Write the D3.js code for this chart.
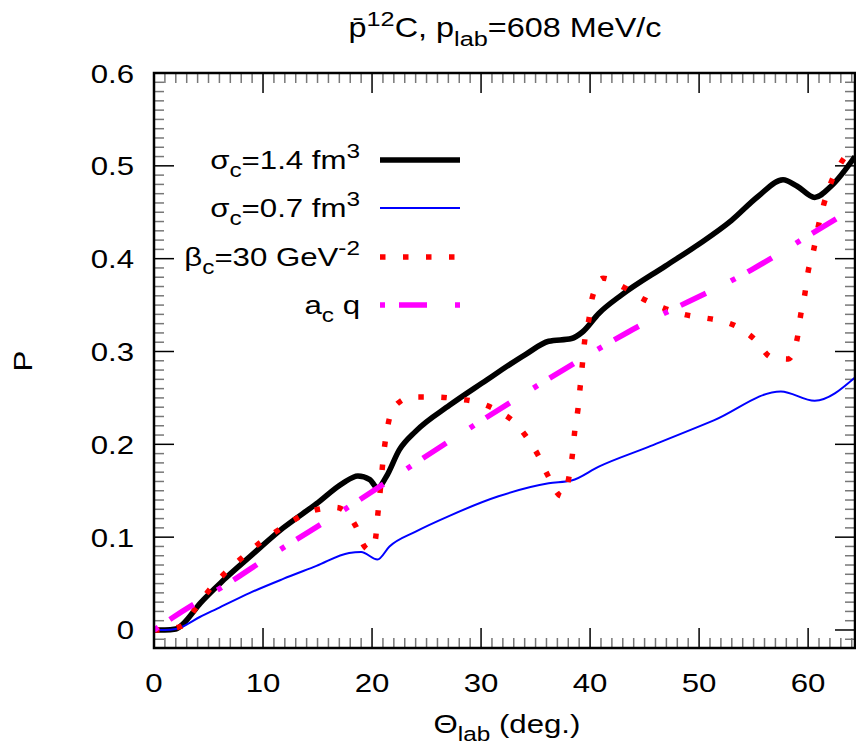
<!DOCTYPE html>
<html>
<head>
<meta charset="utf-8">
<script src="https://cdn.jsdelivr.net/npm/d3@7/dist/d3.min.js"></script>
<style>
  body { margin: 0; background: #fff; }
  svg text { font-family: "Liberation Sans", Arial, sans-serif; fill: #000; }
</style>
</head>
<body>
<div id="chart"></div>
<script>
// values
const thetaS14 = [0, 1, 2, 2.7, 4.25, 6.4, 8.8, 11.85, 14.9, 17.3, 18.7, 19.8, 20.5, 21.3, 22.5, 24.0, 27.1, 30.1, 34.1, 36.2, 38.3, 39.3, 40.8, 42.9, 46.9, 49.9, 52.95, 55.4, 57.7, 59.0, 60.6, 62.1, 64.3];
const pS14 = [0, 0, 0.001, 0.007, 0.029, 0.054, 0.079, 0.110, 0.136, 0.158, 0.166, 0.162, 0.153, 0.165, 0.194, 0.214, 0.242, 0.266, 0.297, 0.311, 0.314, 0.321, 0.341, 0.361, 0.392, 0.415, 0.441, 0.467, 0.485, 0.478, 0.466, 0.478, 0.510];

const thetaS07 = [0, 1, 2, 2.7, 4.2, 5.8, 8.8, 11.85, 14.9, 17.9, 19.0, 20.5, 21.6, 24.0, 27.1, 31.6, 36.2, 38.3, 40.8, 45.3, 51.4, 57.5, 60.6, 64.3];
const pS07 = [0, 0, 0.001, 0.004, 0.014, 0.023, 0.040, 0.055, 0.069, 0.083, 0.084, 0.076, 0.090, 0.106, 0.123, 0.144, 0.158, 0.161, 0.176, 0.197, 0.226, 0.257, 0.247, 0.272];

const thetaB30 = [0, 0.6, 2.5, 3.8, 5.0, 6.4, 7.9, 9.5, 11.2, 12.9, 14.7, 16.7, 18.5, 19.3, 19.8, 20.3, 20.5, 20.7, 21.1, 21.4, 22.0, 23.7, 25.8, 27.8, 29.8, 31.7, 33.3, 34.1, 35.2, 36.1, 37.4, 38.1, 38.4, 38.6, 38.9, 39.1, 39.3, 39.5, 39.9, 40.2, 41.2, 43.1, 44.8, 46.7, 48.6, 50.6, 51.6, 53.6, 55.2, 56.6, 58.2, 59.0, 59.3, 59.7, 60.0, 60.5, 60.9, 61.4, 62.0, 62.9, 64.3];
const pB30 = [0, 0, 0.004, 0.023, 0.042, 0.060, 0.076, 0.092, 0.106, 0.119, 0.129, 0.132, 0.112, 0.090, 0.086, 0.097, 0.121, 0.144, 0.193, 0.217, 0.240, 0.251, 0.251, 0.249, 0.245, 0.235, 0.221, 0.209, 0.189, 0.167, 0.144, 0.167, 0.191, 0.215, 0.239, 0.263, 0.287, 0.311, 0.335, 0.358, 0.379, 0.369, 0.357, 0.347, 0.340, 0.336, 0.334, 0.326, 0.312, 0.294, 0.292, 0.314, 0.338, 0.362, 0.386, 0.409, 0.433, 0.457, 0.479, 0.501, 0.521];

const thetaAq = [0, 1.8, 7.7, 9.7, 17.5, 26.5, 30.1, 41.4, 43.5, 54.8, 60.9, 64.3];
const pAq = [0, 0.014, 0.057, 0.0725, 0.130, 0.199, 0.226, 0.307, 0.321, 0.388, 0.431, 0.455];

const xTicks = [0, 10, 20, 30, 40, 50, 60];
const yTicks = [0, 0.1, 0.2, 0.3, 0.4, 0.5, 0.6];

const W = 856, H = 748;
const m = {left: 154, right: 855, top: 73, bottom: 648};

const svg = d3.select('#chart').append('svg')
    .attr('width', W).attr('height', H);

const x = d3.scaleLinear().domain([0, 64.3]).range([m.left, m.right]);
const y = d3.scaleLinear().domain([-0.0194, 0.6]).range([m.bottom, m.top]);

const fs = 26;
const stretch = 1.2;   // the reference glyphs are wider than Liberation Sans

// text placed at (px,py), horizontally stretched
function addText(px, py, anchor, size, rotate) {
    return svg.append('text')
        .attr('transform', `translate(${px},${py})` + (rotate ? ` rotate(${rotate})` : '') + ` scale(${stretch},1)`)
        .attr('text-anchor', anchor)
        .style('font-size', size + 'px');
}

// text with sub/superscripts: parts = [[text, 'sub'|'sup'|null], ...]
function richText(sel, parts, size) {
    let shift = 0;
    parts.forEach(([t, kind]) => {
        let target = kind === 'sub' ? size * 0.32 : kind === 'sup' ? -size * 0.42 : 0;
        sel.append('tspan')
            .attr('dy', target - shift)
            .style('font-size', (kind ? size * 0.78 : size) + 'px')
            .text(t);
        shift = target;
    });
}

// ticks (mirrored on all four sides)
const g = svg.append('g');
const minorX = d3.range(1, 65).filter(d => d % 10 !== 0);
const minorY = d3.range(-1, 60).map(d => d / 100).filter(d => Math.round(d * 100) % 10 !== 0);

minorX.forEach(d => {
    g.append('line').attr('x1', x(d)).attr('x2', x(d)).attr('y1', m.bottom).attr('y2', m.bottom - 10)
        .attr('stroke', '#777').attr('stroke-width', 1.5);
    g.append('line').attr('x1', x(d)).attr('x2', x(d)).attr('y1', m.top).attr('y2', m.top + 10)
        .attr('stroke', '#777').attr('stroke-width', 1.5);
});
minorY.forEach(d => {
    g.append('line').attr('x1', m.left).attr('x2', m.left + 10).attr('y1', y(d)).attr('y2', y(d))
        .attr('stroke', '#777').attr('stroke-width', 1.5);
    g.append('line').attr('x1', m.right).attr('x2', m.right - 10).attr('y1', y(d)).attr('y2', y(d))
        .attr('stroke', '#777').attr('stroke-width', 1.5);
});
xTicks.forEach(d => {
    g.append('line').attr('x1', x(d)).attr('x2', x(d)).attr('y1', m.bottom).attr('y2', m.bottom - 20)
        .attr('stroke', '#000').attr('stroke-width', 1.5);
    g.append('line').attr('x1', x(d)).attr('x2', x(d)).attr('y1', m.top).attr('y2', m.top + 20)
        .attr('stroke', '#000').attr('stroke-width', 1.5);
    addText(x(d), 692, 'middle', fs).text(d);
});
yTicks.forEach(d => {
    g.append('line').attr('x1', m.left).attr('x2', m.left + 20).attr('y1', y(d)).attr('y2', y(d))
        .attr('stroke', '#000').attr('stroke-width', 1.5);
    g.append('line').attr('x1', m.right).attr('x2', m.right - 20).attr('y1', y(d)).attr('y2', y(d))
        .attr('stroke', '#000').attr('stroke-width', 1.5);
    addText(134, y(d) + 9.5, 'end', fs).text(d3.format('.1~f')(d));
});

// curves
svg.append('defs').append('clipPath').attr('id', 'clip')
  .append('rect').attr('x', m.left).attr('y', m.top).attr('width', m.right - m.left).attr('height', m.bottom - m.top);

const series = [
    {th: thetaS14, p: pS14, color: '#000', width: 5.5, dash: null,
     label: [['σ', null], ['c', 'sub'], ['=1.4 fm', null], ['3', 'sup']]},
    {th: thetaS07, p: pS07, color: '#0000ff', width: 2, dash: null,
     label: [['σ', null], ['c', 'sub'], ['=0.7 fm', null], ['3', 'sup']]},
    {th: thetaB30, p: pB30, color: '#ff0000', width: 5.5, dash: '5.5,17.5',
     label: [['β', null], ['c', 'sub'], ['=30 GeV', null], ['-2', 'sup']]},
    {th: thetaAq, p: pAq, color: '#ff00ff', width: 5.5, dash: '5,14,28,28',
     label: [['a', null], ['c', 'sub'], [' q', null]]}
];

const line = d3.line().x(d => x(d[0])).y(d => y(d[1])).curve(d3.curveMonotoneX);
const plot = svg.append('g').attr('clip-path', 'url(#clip)');
series.forEach(s => {
    plot.append('path')
        .datum(s.th.map((t, i) => [t, s.p[i]]))
        .attr('d', line)
        .attr('fill', 'none')
        .attr('stroke', s.color)
        .attr('stroke-width', s.width)
        .attr('stroke-dasharray', s.dash);
});

// legend
const legY = [160, 208, 257, 305];
series.forEach((s, i) => {
    svg.append('line').attr('x1', 380).attr('x2', 460).attr('y1', legY[i]).attr('y2', legY[i])
        .attr('stroke', s.color).attr('stroke-width', s.width).attr('stroke-dasharray', s.dash);
    richText(addText(360, legY[i] + 9, 'end', fs), s.label, fs);
});

// frame
svg.append('rect').attr('x', m.left).attr('y', m.top).attr('width', m.right - m.left).attr('height', m.bottom - m.top)
    .attr('fill', 'none').attr('stroke', '#000').attr('stroke-width', 2.5);

// title and axis labels
richText(addText(505, 37, 'middle', 27),
    [['p\u0304', null], ['12', 'sup'], ['C, p', null], ['lab', 'sub'], ['=608 MeV/c', null]], 27);

richText(addText(507, 733, 'middle', fs), [['Θ', null], ['lab', 'sub'], [' (deg.)', null]], fs);

addText(32, 361, 'middle', fs, -90).text('P');
</script>
</body>
</html>
